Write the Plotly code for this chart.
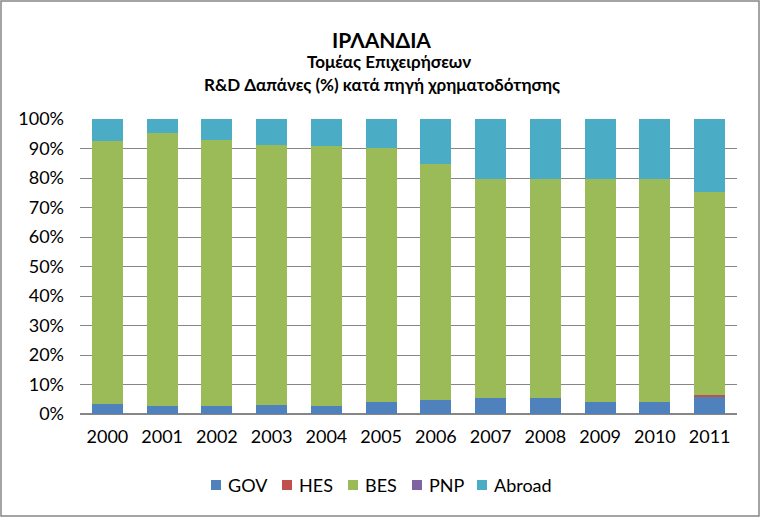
import plotly.graph_objects as go

years = ["2000", "2001", "2002", "2003", "2004", "2005", "2006", "2007", "2008", "2009", "2010", "2011"]
gov = [3.4, 2.7, 2.7, 3.1, 2.7, 4.1, 4.8, 5.4, 5.4, 4.1, 4.1, 5.8]
hes = [0.0, 0.0, 0.0, 0.0, 0.0, 0.0, 0.0, 0.0, 0.0, 0.0, 0.0, 0.5]
bes = [89.3, 92.7, 90.3, 88.0, 88.0, 86.2, 79.8, 74.2, 74.2, 75.5, 75.5, 68.8]
pnp = [0.0, 0.0, 0.0, 0.0, 0.0, 0.0, 0.0, 0.0, 0.0, 0.0, 0.0, 0.0]
abroad = [7.3, 4.6, 7.0, 8.9, 9.3, 9.7, 15.4, 20.4, 20.4, 20.4, 20.4, 24.9]

series = [("GOV", gov, "#4F81BD"), ("HES", hes, "#C0504D"), ("BES", bes, "#9BBB59"),
          ("PNP", pnp, "#8064A2"), ("Abroad", abroad, "#4BACC6")]

font_fam = "Lato, 'Noto Sans', sans-serif"

# plot area in pixels (for layout decorations)
L, R, T, B = 80, 737, 119, 414
PW, PH = R - L, B - T


def px_x(p):
    return (p - L) / PW


def px_y(p):
    return (B - p) / PH


fig = go.Figure()
for name, vals, col in series:
    fig.add_trace(go.Bar(x=years, y=[v / 100 for v in vals], name=name,
                         marker=dict(color=col, line=dict(width=0)), showlegend=False))

# manual legend (Excel style: small square + label)
legend_x = [211, 282, 348, 412, 477]
legend_y = 485
shapes = [dict(type="rect", xref="paper", yref="paper",
               x0=px_x(1), x1=px_x(759), y0=px_y(516), y1=px_y(1),
               line=dict(color="#868686", width=1.5))]
annotations = [
    dict(text="<b>ΙΡΛΑΝΔΙΑ</b>", xref="paper", yref="paper", x=px_x(381), y=px_y(39),
         xanchor="center", yanchor="middle", showarrow=False,
         font=dict(family=font_fam, size=21)),
    dict(text="<b>Τομέας Επιχειρήσεων</b>", xref="paper", yref="paper", x=px_x(389), y=px_y(62),
         xanchor="center", yanchor="middle", showarrow=False,
         font=dict(family=font_fam, size=17)),
    dict(text="<b>R&D Δαπάνες (%) κατά πηγή χρηματοδότησης</b>", xref="paper", yref="paper",
         x=px_x(382), y=px_y(84), xanchor="center", yanchor="middle", showarrow=False,
         font=dict(family=font_fam, size=17)),
]
for (name, vals, col), lx in zip(series, legend_x):
    shapes.append(dict(type="rect", xref="paper", yref="paper",
                       x0=px_x(lx), x1=px_x(lx + 10), y0=px_y(legend_y + 5), y1=px_y(legend_y - 5),
                       fillcolor=col, line=dict(width=0)))
    annotations.append(dict(text=name, xref="paper", yref="paper", x=px_x(lx + 15), y=px_y(legend_y),
                            xanchor="left", yanchor="middle", showarrow=False,
                            font=dict(family=font_fam, size=18)))

fig.update_layout(
    barmode="stack",
    bargap=0.434,
    width=761, height=518,
    margin=dict(l=L, r=761 - R, t=T, b=518 - B),
    paper_bgcolor="white", plot_bgcolor="white",
    font=dict(family=font_fam, size=18, color="black"),
    showlegend=False,
    xaxis=dict(showgrid=False, showline=False, ticks="", tickfont=dict(size=18),
               ticklabelstandoff=10),
    yaxis=dict(range=[0, 1], tickformat=".0%", dtick=0.1, showgrid=True,
               gridcolor="#868686", gridwidth=1, zeroline=True, zerolinecolor="#868686",
               showline=False, ticks="", ticklabelstandoff=15,
               tickfont=dict(size=18)),
    annotations=annotations,
    shapes=shapes,
)

fig.write_html("out.html", config={"displayModeBar": False},
               post_script="document.body.style.margin='0';")
